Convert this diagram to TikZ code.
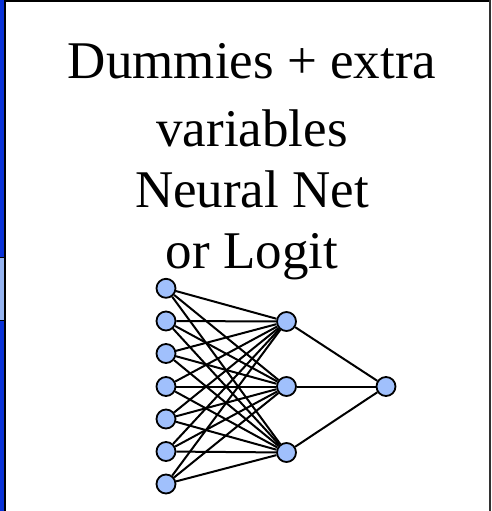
\documentclass[tikz,border=0pt]{standalone}
\usepackage{fontspec}
\setmainfont{Liberation Serif}
\definecolor{nodefill}{RGB}{160,192,252}
\definecolor{stripblue}{RGB}{10,50,215}
\definecolor{striplight}{RGB}{150,180,240}
\definecolor{framegray}{RGB}{50,50,50}
\tikzset{
  neuron/.style={circle,draw=black,fill=nodefill,line width=1.8pt,minimum size=19pt,inner sep=0pt},
  link/.style={line width=2pt},
  title/.style={font=\fontsize{53}{61}\selectfont,anchor=base,inner sep=0pt}
}
\begin{document}
\begin{tikzpicture}[x=1pt,y=-1pt]
\useasboundingbox (0,0) rectangle (491,511);
\fill[white] (0,0) rectangle (491,511);
% frame
\fill[stripblue] (0,0) rectangle (4,511);
\fill[striplight] (0,257) rectangle (4,320);
\draw[black,line width=1pt] (0,257) -- (4,257) (0,320) -- (4,320);
\draw[black,line width=1.5pt] (4.8,0) -- (4.8,511);
\draw[black,line width=2pt] (4,1) -- (491,1);
\draw[framegray,line width=2pt] (489.5,0) -- (489.5,511);
% text
\node[title] (l1) at (252,78) {Dummies + extra};
\node[title] (l2) at (252,146) {variables};
\node[title] (l3) at (252,207) {Neural Net};
\node[title] (l4) at (252,268) {or Logit};
% network
\foreach \i/\y in {1/288.3,2/321,3/353.5,4/386.5,5/419,6/451.5,7/484}
  \node[neuron] (i\i) at (166,\y) {};
\foreach \j/\y in {1/321.5,2/386.5,3/452.5}
  \node[neuron] (h\j) at (286.5,\y) {};
\node[neuron] (o) at (386,386.5) {};
\foreach \i in {1,...,7}
  \foreach \j in {1,2,3}
    \draw[link] (i\i) -- (h\j);
\foreach \j in {1,2,3}
  \draw[link] (h\j) -- (o);
\end{tikzpicture}
\end{document}
